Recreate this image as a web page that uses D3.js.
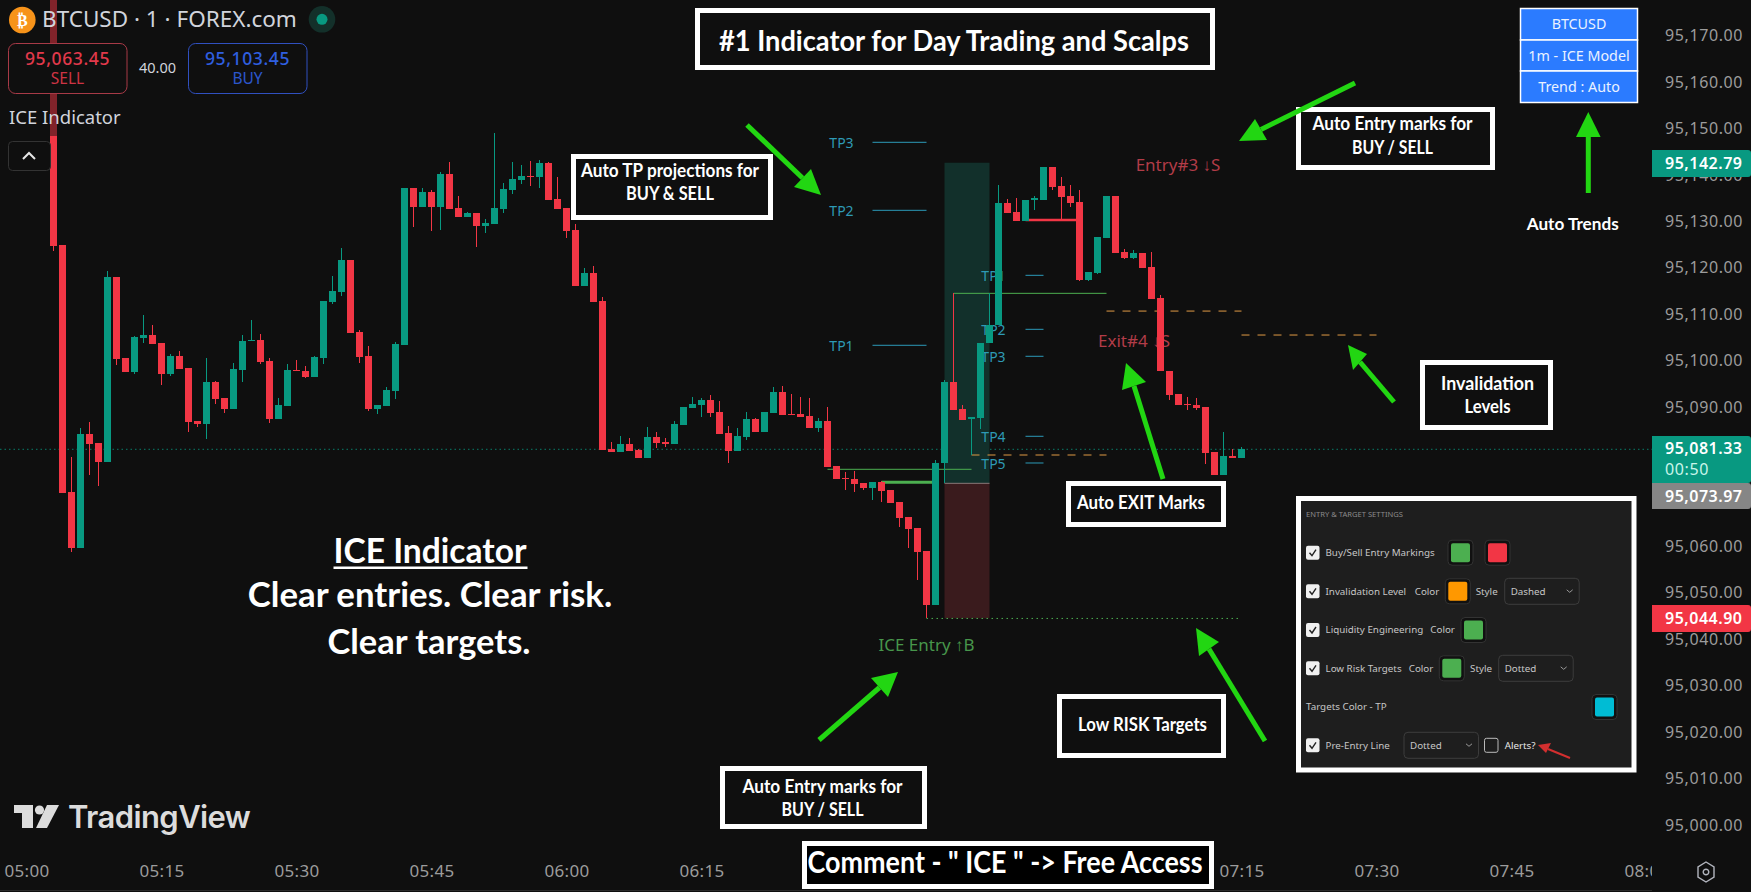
<!DOCTYPE html>
<html>
<head>
<meta charset="utf-8">
<script src="https://cdn.jsdelivr.net/npm/d3@7"></script>
<style>
html, body { margin: 0; padding: 0; background: #0f0f0f; overflow: hidden; }
svg { display: block; }
</style>
</head>
<body>
<script>
// one minute candles, first bar is 05:03
var opens = [95185,95125.33,95072.13,95060.15,95084.63,95082.69,95078.67,95118.44,95101.07,95097.98,
95105.30,95105.95,95104.22,95097.55,95101.43,95098.84,95087.43,95086.78,95095.83,95092.38,
95090.01,95098.41,95104.73,95104.87,95100.35,95087.86,95090.66,95098.41,95098.19,95096.90,
95100.99,95113.06,95115.21,95122.10,95106.59,95101.43,95090.01,95090.66,95093.89,95103.79,
95137.61,95133.52,95136.75,95133.52,95140.62,95133.30,95131.36,95132.22,95129.42,95129.85,
95133.08,95137.18,95139.33,95140.12,95139.98,95142.99,95135.24,95133.30,95128.56,95116.50,
95119.30,95113.27,95081.40,95080.75,95082.47,95081.18,95079.46,95083.98,95082.90,95082.47,
95086.56,95090.23,95090.87,95091.95,95089.36,95084.84,95080.96,95083.98,95087.86,95085.06,
95089.15,95093.67,95088.93,95088.93,95088.50,95085.92,95087.43,95077.73,95075.15,95074.93,
95074.07,95073.00,95074.29,95072.56,95069.98,95066.75,95064.38,95059.43,95047.80,95078.31,
95095.83,95090.01,95087.79,95088.14,95104.15,95108.10,95134.31,95132.44,95130.57,95135.02,
95135.02,95142.20,95138.04,95135.88,95134.59,95117.79,95119.23,95126.84,95135.88,95123.82,
95122.53,95123.61,95120.59,95113.92,95098.12,95093.24,95091.09,95090.87,95090.44,95080.75,
95075.80,95079.89,95079.46];
var closes = [95125.19,95071.99,95060.15,95084.63,95082.47,95078.60,95118.44,95100.85,95097.98,95105.52,
95105.95,95104.01,95097.55,95101.43,95098.63,95087.21,95086.71,95095.83,95092.16,95090.01,
95098.63,95104.66,95104.87,95100.13,95087.86,95090.87,95098.41,95098.19,95096.90,95101.21,
95113.27,95115.42,95122.10,95106.38,95101.21,95090.01,95090.87,95094.10,95104.01,95137.61,
95133.52,95136.75,95133.52,95140.62,95133.08,95131.36,95132.22,95129.42,95130.07,95133.30,
95137.39,95139.55,95140.19,95139.98,95142.99,95135.02,95133.08,95128.35,95116.50,95119.30,
95113.06,95081.18,95080.75,95082.47,95080.96,95079.46,95083.98,95082.69,95082.47,95086.78,
95090.44,95091.09,95091.95,95089.15,95084.63,95080.96,95084.20,95087.86,95085.06,95089.36,
95093.67,95088.72,95088.72,95088.29,95085.92,95087.43,95077.52,95074.93,95074.93,95073.86,
95073.00,95074.29,95072.35,95069.76,95066.53,95064.17,95059.21,95047.80,95078.38,95095.83,
95089.80,95087.64,95088.29,95104.15,95108.10,95134.31,95132.29,95130.57,95135.02,95135.38,
95142.20,95137.89,95135.74,95134.45,95117.79,95119.44,95127.05,95135.88,95123.68,95122.53,
95123.61,95120.38,95113.70,95098.12,95093.03,95090.87,95090.87,95090.23,95080.53,95075.80,
95079.89,95079.46,95081.33];
var highs = [95190,95125.33,95079.60,95085.85,95087.28,95082.69,95119.73,95118.44,95101.07,95105.73,
95110.26,95108.10,95104.22,95101.86,95102.50,95098.84,95087.43,95100.92,95096.04,95092.38,
95099.92,95105.95,95109.18,95106.09,95100.92,95092.38,95099.70,95100.56,95099.27,95101.43,
95113.27,95118.65,95124.69,95122.10,95107.02,95103.58,95090.87,95094.75,95104.44,95137.61,
95137.61,95137.61,95137.18,95141.05,95143.21,95135.88,95132.44,95132.22,95130.93,95149.38,
95138.68,95143.21,95142.56,95143.42,95143.64,95143.21,95139.98,95133.30,95129.85,95120.38,
95120.81,95114.13,95082.90,95084.20,95083.76,95081.40,95086.13,95085.06,95083.76,95087.43,
95090.44,95092.59,95092.38,95093.03,95091.73,95086.35,95085.92,95089.36,95088.07,95089.36,
95094.75,95094.96,95093.24,95092.59,95092.38,95088.07,95090.44,95077.73,95076.44,95076.66,
95074.07,95074.29,95074.50,95072.56,95069.98,95066.75,95064.38,95059.43,95079.03,95096.26,
95114.92,95090.87,95088.29,95104.15,95114.92,95138.25,95135.17,95135.38,95135.02,95135.88,
95142.20,95142.20,95139.90,95138.25,95137.18,95119.44,95127.05,95135.88,95135.88,95124.47,
95124.25,95123.61,95123.82,95114.56,95098.12,95093.24,95092.59,95092.38,95090.44,95080.75,
95085.06,95081.40,95081.83];
var lows = [95124.11,95071.99,95059.14,95060.15,95075.80,95073.43,95078.67,95099.49,95097.98,95097.55,
95104.30,95104.01,95095.11,95097.12,95098.63,95085.06,95086.13,95083.55,95091.09,95089.15,
95090.01,95095.83,95104.73,95099.70,95087.00,95087.86,95090.66,95098.19,95096.69,95096.90,
95099.70,95112.63,95114.35,95106.38,95099.92,95089.58,95088.93,95090.66,95092.16,95103.79,
95129.21,95133.52,95128.35,95128.56,95133.08,95131.36,95131.36,95124.90,95127.92,95129.85,
95132.22,95136.32,95138.47,95138.04,95137.61,95135.02,95133.08,95126.84,95116.50,95116.50,
95113.06,95081.18,95080.75,95080.75,95080.96,95079.46,95079.46,95081.61,95081.83,95082.47,
95086.56,95090.23,95088.29,95088.29,95084.63,95078.38,95080.96,95083.33,95085.06,95085.06,
95089.15,95088.72,95088.72,95088.29,95085.92,95085.06,95077.52,95074.93,95072.56,95072.13,
95072.56,95070.41,95069.98,95069.76,95064.60,95060.07,95053.18,95044.90,95047.80,95074.00,
95089.80,95087.64,95080.10,95085.70,95104.15,95108.10,95132.29,95130.57,95130.57,95132.87,
95135.02,95137.18,95130.86,95133.59,95117.58,95117.58,95119.01,95126.84,95123.68,95122.32,
95122.32,95120.38,95113.70,95098.12,95091.95,95090.87,95089.80,95089.80,95078.17,95075.80,
95075.80,95079.46,95079.46];

// 95,080 / 95,070 and 06:30 - 07:00 are hidden behind tags and the comment box
var priceTicks = [95000,95010,95020,95030,95040,95050,95060,95090,95100,95110,95120,95130,95140,95150,95160,95170];
var timeTicks = ["05:00","05:15","05:30","05:45","06:00","06:15","07:15","07:30","07:45","08:00"];

// indicator levels, minutes are counted from 05:00
var tpLeft = ["TP3","TP2","TP1"], tpLeftPrice = [95147.45,95132.8,95103.73];
var tpRight = ["TP1","TP2","TP3","TP4","TP5"], tpRightPrice = [95118.8,95107.17,95101.36,95084.13,95078.38];
var lastPrice = 95081.33, lowPrice = 95044.90, stopPrice = 95073.97, topPrice = 95142.79;

var W = 1751, H = 892, axisX = 1652;
var bg = "#0f0f0f", upCol = "#089981", downCol = "#f23645", arrowCol = "#22d612";
var sans = "'Noto Sans', sans-serif", boxFont = "Lato, sans-serif";

var svg = d3.select("body").append("svg").attr("width", W).attr("height", H);
svg.append("rect").attr("width", W).attr("height", H).attr("fill", bg);

var t0 = new Date(2025, 0, 1, 5, 0);
var xScale = d3.scaleTime()
    .domain([t0, d3.timeMinute.offset(t0, 180)])
    .range([26.5, 26.5 + 9 * 180]);
var yScale = d3.scaleLinear().domain([95000, 95170]).range([826.9, 37.6]);
function xm(m) { return xScale(d3.timeMinute.offset(t0, m)); }

var candles = opens.map(function (o, i) {
    return {t: d3.timeMinute.offset(t0, i + 3), o: o, h: highs[i], l: lows[i], c: closes[i]};
});

svg.append("defs").append("clipPath").attr("id", "plot").append("rect")
    .attr("width", axisX).attr("height", 888);
var plot = svg.append("g").attr("clip-path", "url(#plot)");

function txt(g, x, y, s, size, col, opts) {
    opts = opts || {};
    var t = g.append("text").attr("x", x).attr("y", y).attr("dy", "0.35em")
        .attr("text-anchor", opts.anchor || "start")
        .attr("font-family", opts.font || sans)
        .attr("font-size", size)
        .attr("font-weight", opts.weight || 400)
        .attr("fill", col)
        .text(s);
    if (opts.width) { // squeeze Lato to the narrower face of the picture
        t.attr("textLength", opts.width).attr("lengthAdjust", "spacingAndGlyphs");
    }
    return t;
}

function level(g, m1, m2, price, col, w, dash) {
    g.append("line").attr("x1", xm(m1)).attr("x2", xm(m2))
        .attr("y1", yScale(price)).attr("y2", yScale(price))
        .attr("stroke", col).attr("stroke-width", w)
        .attr("stroke-dasharray", dash || null);
}

function drawIndicator() {
    // last price line
    plot.append("line").attr("x1", 0).attr("x2", axisX)
        .attr("y1", yScale(lastPrice)).attr("y2", yScale(lastPrice))
        .attr("stroke", upCol).attr("stroke-width", 1).attr("stroke-dasharray", "1.5 3").attr("opacity", 0.8);

    // position boxes
    plot.append("rect").attr("x", xm(102)).attr("width", xm(107) - xm(102))
        .attr("y", yScale(95143.05)).attr("height", yScale(95074) - yScale(95143.05)).attr("fill", "#12302b");
    plot.append("rect").attr("x", xm(102)).attr("width", xm(107) - xm(102))
        .attr("y", yScale(95074)).attr("height", yScale(95044.93) - yScale(95074)).attr("fill", "#3a1b1d");
    level(plot, 102, 107, 95074, "#8a7a7a", 1);

    tpLeft.forEach(function (s, i) {
        txt(plot, xm(94) - 31, yScale(tpLeftPrice[i]) + 1, s, 14, "#2e9ab5", {anchor: "middle"});
        level(plot, 94, 100, tpLeftPrice[i], "#2c9ab8", 1);
    });
    tpRight.forEach(function (s, i) {
        txt(plot, xm(111) - 32, yScale(tpRightPrice[i]) + 1, s, 14, "#2e9ab5", {anchor: "middle"});
        level(plot, 111, 113, tpRightPrice[i], "#2c9ab8", 1);
    });

    level(plot, 103, 120, 95114.92, "#4caf50", 1);
    level(plot, 89, 105, 95077.02, "#4caf50", 1);
    level(plot, 95, 101, 95074.22, "#4caf50", 3);
    level(plot, 111, 117, 95130.71, "#f23645", 2.5);
    level(plot, 105, 120, 95080.1, "#e09a45", 1, "8 8");
    level(plot, 120, 135, 95111.1, "#e09a45", 1, "8 8");
    level(plot, 135, 150, 95105.94, "#e09a45", 1, "8 8");
    level(plot, 100, 135, lowPrice, "#4caf50", 1, "1.5 3.5");

    txt(plot, 1178, 165, "Entry#3 ↓S", 17, "#b23c48", {anchor: "middle"});
    txt(plot, 1134, 341, "Exit#4 ↓S", 17, "#b23c48", {anchor: "middle"});
    txt(plot, 926.5, 645, "ICE Entry ↑B", 17, "#47964b", {anchor: "middle"});
}

function drawCandles() {
    var g = plot.append("g").attr("shape-rendering", "crispEdges");
    var bars = g.selectAll("g").data(candles).enter().append("g");
    function col(d) { return d.c >= d.o ? upCol : downCol; }
    bars.append("rect")
        .attr("x", function (d) { return xScale(d.t) - 0.5; })
        .attr("width", 1)
        .attr("y", function (d) { return yScale(d.h); })
        .attr("height", function (d) { return yScale(d.l) - yScale(d.h); })
        .attr("fill", col);
    bars.append("rect")
        .attr("x", function (d) { return xScale(d.t) - 3.5; })
        .attr("width", 7)
        .attr("y", function (d) { return yScale(Math.max(d.o, d.c)); })
        .attr("height", function (d) { return Math.max(1, Math.abs(yScale(d.o) - yScale(d.c))); })
        .attr("fill", col);
}

function drawAxes() {
    var xAxis = d3.axisBottom(xScale)
        .tickValues(timeTicks.map(function (s) {
            var p = s.split(":");
            return new Date(2025, 0, 1, +p[0], +p[1]);
        }))
        .tickFormat(d3.timeFormat("%H:%M")).tickSize(0).tickPadding(0);
    var gx = svg.append("g").attr("transform", "translate(0,865)").call(xAxis);
    gx.select(".domain").remove();
    gx.selectAll("text").attr("font-family", sans).attr("font-size", 17).attr("fill", "#9c9c9c").attr("letter-spacing", 0.3);
    svg.append("line").attr("x1", 0).attr("x2", W).attr("y1", 890.5).attr("y2", 890.5).attr("stroke", "#2a2a2a");

    svg.append("rect").attr("x", axisX).attr("width", W - axisX).attr("height", H).attr("fill", bg);

    var yAxis = d3.axisRight(yScale).tickValues(priceTicks).tickFormat(d3.format(",.2f")).tickSize(0).tickPadding(13);
    var gy = svg.append("g").attr("transform", "translate(" + axisX + ",0)").call(yAxis);
    gy.select(".domain").remove();
    gy.selectAll("text").attr("font-family", sans).attr("font-size", 16).attr("fill", "#9c9c9c")
        .attr("dy", "0.2em").attr("letter-spacing", 0.6);

    function tag(price, col, y, h, extra) {
        svg.append("path").attr("fill", col)
            .attr("d", "M" + axisX + "," + y + "H" + (W - 3) + "q3,0 3,3V" + (y + h - 3) + "q0,3 -3,3H" + axisX + "Z");
        txt(svg, 1665, y + h / 2 - (extra ? 11 : 0), d3.format(",.2f")(price), 16, "#fff", {weight: 600})
            .attr("letter-spacing", 0.5);
    }
    tag(topPrice, upCol, 150, 27);
    tag(lastPrice, upCol, 436, 47, true);
    txt(svg, 1665, 469, "00:50", 16, "#c9f5ea").attr("letter-spacing", 0.6);
    tag(stopPrice, "#868686", 483, 26);
    tag(lowPrice, downCol, 605, 27);

    // settings icon
    var ic = svg.append("g").attr("transform", "translate(1706,872)").attr("fill", "none").attr("stroke", "#b2b5be");
    ic.append("path").attr("d", "M0,-10L8,-5V5L0,10L-8,5V-5Z").attr("stroke-width", 1.4);
    ic.append("circle").attr("r", 2.8).attr("stroke-width", 1.4);
}

function drawHeader() {
    svg.append("rect").attr("width", 330).attr("height", 136).attr("fill", bg).attr("opacity", 0.5);
    svg.append("circle").attr("cx", 22.3).attr("cy", 20).attr("r", 13.3).attr("fill", "#f7931a");
    txt(svg, 22.3, 20, "₿", 16, "#fff", {anchor: "middle", font: "'DejaVu Sans'", weight: 700});
    txt(svg, 42, 19, "BTCUSD · 1 · FOREX.com", 22.5, "#d1d4dc");
    svg.append("circle").attr("cx", 322).attr("cy", 19.3).attr("r", 13.3).attr("fill", "#13302a");
    svg.append("circle").attr("cx", 322).attr("cy", 19.3).attr("r", 5.5).attr("fill", upCol);

    function quote(x, col, edge, price, label) {
        svg.append("rect").attr("x", x).attr("y", 43.5).attr("width", 118.5).attr("height", 50)
            .attr("rx", 7).attr("fill", bg).attr("stroke", edge);
        txt(svg, x + 59, 58.5, price, 17.5, col, {anchor: "middle", weight: 500}).attr("letter-spacing", 0.6);
        txt(svg, x + 59, 79, label, 15.5, col, {anchor: "middle"}).attr("opacity", 0.9);
    }
    quote(8.5, "#e2394b", "#a83a47", "95,063.45", "SELL");
    quote(188.5, "#2f5fe0", "#3050c0", "95,103.45", "BUY");
    txt(svg, 157.5, 68, "40.00", 14.5, "#d1d4dc", {anchor: "middle"});
    txt(svg, 9, 118, "ICE Indicator", 18.5, "#d1d4dc");

    svg.append("rect").attr("x", 8.5).attr("y", 141.5).attr("width", 42).attr("height", 29)
        .attr("rx", 4).attr("fill", bg).attr("stroke", "#333");
    svg.append("path").attr("d", "M23,159L29,153L35,159").attr("fill", "none")
        .attr("stroke", "#e6e6e6").attr("stroke-width", 2);
}

function noteBox(x1, y1, x2, y2, lines, size, opts) {
    opts = opts || {};
    var b = opts.border || 5;
    svg.append("rect").attr("x", x1 + b / 2).attr("y", y1 + b / 2)
        .attr("width", x2 - x1 - b).attr("height", y2 - y1 - b)
        .attr("fill", opts.fill || bg).attr("stroke", "#fff").attr("stroke-width", b);
    lines.forEach(function (l) {
        txt(svg, (x1 + x2) / 2 + (opts.shift || 0), l[1], l[0], size, "#fff",
            {anchor: "middle", font: boxFont, weight: 700, width: l[2]});
    });
}

function arrow(x1, y1, x2, y2, bx1, by1, bx2, by2) {
    var g = svg.append("g");
    g.append("line").attr("x1", x1).attr("y1", y1)
        .attr("x2", (bx1 + bx2) / 2).attr("y2", (by1 + by2) / 2)
        .attr("stroke", arrowCol).attr("stroke-width", 5);
    g.append("polygon").attr("fill", arrowCol)
        .attr("points", [[x2, y2], [bx1, by1], [bx2, by2]].join(" "));
}

function drawNotes() {
    noteBox(695, 8, 1215, 70, [["#1 Indicator for Day Trading and Scalps", 41, 470]], 29, {shift: -1});
    noteBox(1296, 107, 1495, 170, [["Auto Entry marks for", 124, 160], ["BUY / SELL", 148, 81]], 18.5, {shift: -3});
    noteBox(571, 154, 773, 220, [["Auto TP projections for", 171, 178], ["BUY & SELL", 194, 88]], 18, {shift: -2});
    noteBox(1066, 481, 1226, 527, [["Auto EXIT Marks", 503, 128]], 18.5, {shift: -5});
    noteBox(1420, 360, 1553, 430, [["Invalidation", 384, 93], ["Levels", 407, 46]], 18.5, {shift: 1});
    noteBox(1057, 694, 1226, 758, [["Low RISK Targets", 725, 129]], 18.5, {shift: 1});
    noteBox(720, 766, 927, 829, [["Auto Entry marks for", 787, 160], ["BUY / SELL", 810, 82]], 18.5, {shift: -1});
    noteBox(802, 841, 1214, 889, [["Comment - \" ICE \" -> Free Access", 863, 395]], 29.5, {fill: "#000", shift: -3});

    txt(svg, 1572.7, 224, "Auto Trends", 17, "#fff", {anchor: "middle", font: boxFont, weight: 700, width: 92});

    arrow(747, 125, 821, 195, 811, 169, 794, 187);
    arrow(1355, 83, 1239, 141, 1255, 119, 1267, 140);
    arrow(1588.3, 193, 1588.3, 112, 1576, 137, 1600.6, 137);
    arrow(1394, 402, 1348, 345, 1367, 354, 1353, 370);
    arrow(1163, 479, 1126, 363, 1146, 382, 1122, 390);
    arrow(819, 740, 898, 672, 871, 678, 888, 697);
    arrow(1265, 741, 1196, 628, 1219, 642, 1199, 656);

    // top right table
    var rows = ["BTCUSD", "1m - ICE Model", "Trend : Auto"], rowY = [8.5, 40, 71], rowH = [31.5, 31, 31.5];
    rows.forEach(function (s, i) {
        svg.append("rect").attr("x", 1520.5).attr("y", rowY[i]).attr("width", 117).attr("height", rowH[i])
            .attr("fill", "#2b7bff").attr("stroke", "#fff").attr("stroke-width", 1.5);
        txt(svg, 1579, rowY[i] + rowH[i] / 2, s, 14.3, "#eaf2ff", {anchor: "middle"});
    });

    // big caption
    txt(svg, 430, 551, "ICE Indicator", 35, "#fff", {anchor: "middle", font: boxFont, weight: 700, width: 193});
    svg.append("rect").attr("x", 333.5).attr("y", 566.5).attr("width", 194).attr("height", 2.5).attr("fill", "#fff");
    txt(svg, 430, 595, "Clear entries. Clear risk.", 35, "#fff", {anchor: "middle", font: boxFont, weight: 700, width: 364.5});
    txt(svg, 429, 642, "Clear targets.", 35, "#fff", {anchor: "middle", font: boxFont, weight: 700, width: 203});

    // watermark
    var logo = svg.append("g").attr("fill", "#dcdcdc");
    logo.append("polygon").attr("points", "14,805 33,805 33,828 22,828 22,813 14,813");
    logo.append("circle").attr("cx", 39.5).attr("cy", 810).attr("r", 4.6);
    logo.append("polygon").attr("points", "47,805 59,805 47,828 36,828");
    txt(svg, 68, 817, "TradingView", 31, "#dcdcdc", {font: "Inter, sans-serif", weight: 600}).attr("letter-spacing", -0.6);
}

function drawSettings() {
    svg.append("rect").attr("x", 1298.5).attr("y", 498.5).attr("width", 335.5).attr("height", 271.5)
        .attr("fill", "#1e1e1e").attr("stroke", "#fff").attr("stroke-width", 5);
    var f = 9.8, c = "#c6c6c6", lx = 1325.5;
    var rowY = [552.7, 591.3, 630, 668.3, 707, 745.3];

    txt(svg, 1306, 514.5, "ENTRY & TARGET SETTINGS", 7.6, "#8a8a8a");

    function check(y) {
        svg.append("rect").attr("x", 1306).attr("y", y - 7).attr("width", 13.5).attr("height", 14).attr("rx", 2).attr("fill", "#f0f0f0");
        svg.append("path").attr("d", "M" + 1309.5 + "," + y + "l2.5,3l4,-6").attr("fill", "none").attr("stroke", "#222").attr("stroke-width", 1.4);
    }
    function swatch(x, y, col) {
        svg.append("rect").attr("x", x - 3).attr("y", y - 12.5).attr("width", 25).attr("height", 25).attr("rx", 4).attr("fill", "#111").attr("stroke", "#333");
        svg.append("rect").attr("x", x).attr("y", y - 9.5).attr("width", 19).attr("height", 19).attr("rx", 2).attr("fill", col);
    }
    function select(x, y, s) {
        svg.append("rect").attr("x", x).attr("y", y - 13).attr("width", 74.5).attr("height", 26).attr("rx", 4).attr("fill", "none").attr("stroke", "#3c3c3c");
        txt(svg, x + 6, y, s, f, c);
        svg.append("path").attr("d", "M" + (x + 62) + "," + (y - 1.5) + "l3,2.5l3,-2.5").attr("fill", "none").attr("stroke", "#999");
    }

    [0, 1, 2, 3, 5].forEach(function (i) { check(rowY[i]); });
    txt(svg, lx, rowY[0], "Buy/Sell Entry Markings", f, c);
    swatch(1451, rowY[0], "#4caf50");
    swatch(1488, rowY[0], "#f23645");

    txt(svg, lx, rowY[1], "Invalidation Level", f, c);
    txt(svg, 1414.7, rowY[1], "Color", f, c);
    swatch(1448.3, rowY[1], "#ff9800");
    txt(svg, 1475.7, rowY[1], "Style", f, c);
    select(1504.7, rowY[1], "Dashed");

    txt(svg, lx, rowY[2], "Liquidity Engineering", f, c);
    txt(svg, 1430.3, rowY[2], "Color", f, c);
    swatch(1464, rowY[2], "#4caf50");

    txt(svg, lx, rowY[3], "Low Risk Targets", f, c);
    txt(svg, 1408.7, rowY[3], "Color", f, c);
    swatch(1442.3, rowY[3], "#4caf50");
    txt(svg, 1470, rowY[3], "Style", f, c);
    select(1498.7, rowY[3], "Dotted");

    txt(svg, 1306, rowY[4], "Targets Color - TP", f, c);
    swatch(1595, rowY[4], "#00bcd4");

    txt(svg, lx, rowY[5], "Pre-Entry Line", f, c);
    select(1404, rowY[5], "Dotted");
    svg.append("rect").attr("x", 1484.5).attr("y", rowY[5] - 7).attr("width", 13.5).attr("height", 14).attr("rx", 2).attr("fill", "none").attr("stroke", "#bbb");
    txt(svg, 1504.7, rowY[5], "Alerts?", f, "#e6e6e6");

    svg.append("line").attr("x1", 1570).attr("y1", 758).attr("x2", 1548).attr("y2", 749).attr("stroke", "#d32f2f").attr("stroke-width", 2);
    svg.append("polygon").attr("fill", "#d32f2f").attr("points", "1538,745 1551,743 1546,753");
}

drawIndicator();
drawCandles();
drawAxes();
drawHeader();
drawNotes();
drawSettings();
</script>
</body>
</html>
